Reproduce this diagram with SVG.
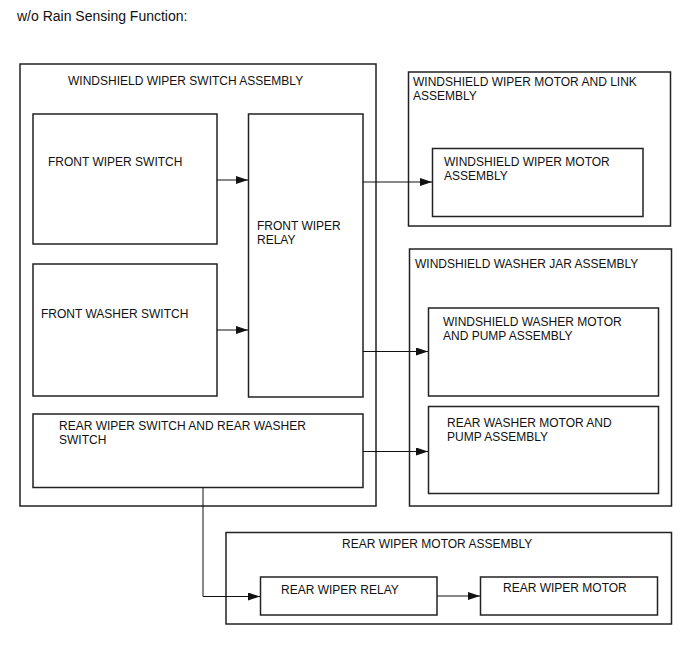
<svg xmlns="http://www.w3.org/2000/svg" width="688" height="658" viewBox="0 0 688 658">
<style>
rect{fill:none;stroke:#222;stroke-width:1.5}
text{font-family:"Liberation Sans",Arial,sans-serif;font-size:12px;fill:#111}
.c{fill:none;stroke:#111;stroke-width:1}
</style>
<defs>
<marker id="a" viewBox="0 0 12 8" refX="12" refY="4" markerWidth="12" markerHeight="8" markerUnits="userSpaceOnUse" orient="auto"><path d="M0,0L12,4L0,8z" fill="#111"/></marker>
</defs>
<rect x="0" y="0" width="688" height="658" style="fill:#fff;stroke:none"/>
<text x="17" y="21" style="font-size:14px">w/o Rain Sensing Function:</text>
<g id="switch-assembly"><rect x="20" y="64" width="356" height="442"/><text x="68" y="85">WINDSHIELD WIPER SWITCH ASSEMBLY</text></g>
<g id="front-wiper-switch"><rect x="33" y="114" width="184" height="130"/><text x="48" y="166">FRONT WIPER SWITCH</text></g>
<g id="front-wiper-relay"><rect x="248.5" y="114" width="114.5" height="283"/><text x="257" y="230">FRONT WIPER</text><text x="257" y="244">RELAY</text></g>
<g id="front-washer-switch"><rect x="33" y="264" width="184" height="132"/><text x="41" y="318">FRONT WASHER SWITCH</text></g>
<g id="rear-switch"><rect x="33" y="414" width="330" height="73.5"/><text x="59" y="430">REAR WIPER SWITCH AND REAR WASHER</text><text x="59" y="444">SWITCH</text></g>
<g id="motor-link-assembly"><rect x="408.5" y="72" width="262" height="154"/><text x="413" y="86">WINDSHIELD WIPER MOTOR AND LINK</text><text x="413" y="100">ASSEMBLY</text></g>
<g id="wiper-motor-assembly"><rect x="432.5" y="148.5" width="210.5" height="68"/><text x="444" y="166">WINDSHIELD WIPER MOTOR</text><text x="444" y="180">ASSEMBLY</text></g>
<g id="washer-jar-assembly"><rect x="409.5" y="249" width="262" height="257"/><text x="415" y="268">WINDSHIELD WASHER JAR ASSEMBLY</text></g>
<g id="washer-motor"><rect x="428.5" y="308" width="230" height="88"/><text x="443" y="326">WINDSHIELD WASHER MOTOR</text><text x="443" y="340">AND PUMP ASSEMBLY</text></g>
<g id="rear-washer-motor"><rect x="428.5" y="406.5" width="230" height="87"/><text x="447" y="427">REAR WASHER MOTOR AND</text><text x="447" y="441">PUMP ASSEMBLY</text></g>
<g id="rear-wiper-motor-assembly"><rect x="226" y="532.5" width="445.5" height="91.5"/><text x="342" y="548">REAR WIPER MOTOR ASSEMBLY</text></g>
<g id="rear-wiper-relay"><rect x="260.5" y="577" width="176.5" height="38"/><text x="281" y="594">REAR WIPER RELAY</text></g>
<g id="rear-wiper-motor"><rect x="480.5" y="577" width="177" height="38"/><text x="503" y="592">REAR WIPER MOTOR</text></g>
<g id="connectors">
<path class="c" d="M217,180H248" marker-end="url(#a)"/>
<path class="c" d="M217,330H248" marker-end="url(#a)"/>
<path class="c" d="M363,182H432" marker-end="url(#a)"/>
<path class="c" d="M363,351.5H428" marker-end="url(#a)"/>
<path class="c" d="M363,451.5H428" marker-end="url(#a)"/>
<path class="c" d="M203,487.5V596.5H260" marker-end="url(#a)"/>
<path class="c" d="M437,596H480" marker-end="url(#a)"/>
</g>
</svg>
